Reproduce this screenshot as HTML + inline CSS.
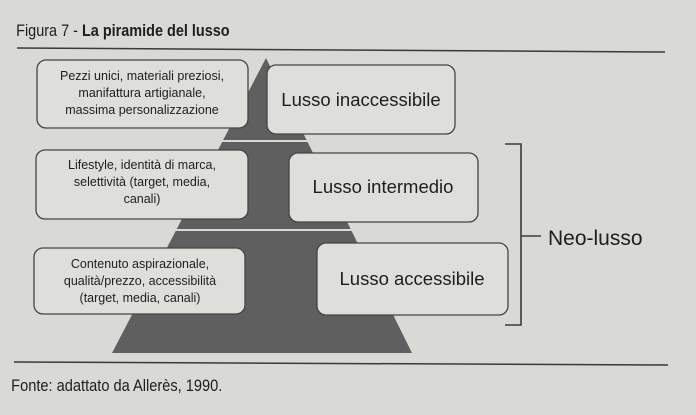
<!DOCTYPE html>
<html><head><meta charset="utf-8"><style>
html,body{margin:0;padding:0;width:696px;height:415px;overflow:hidden;background:#d9d9d6}
svg{display:block}
text{font-family:"Liberation Sans",sans-serif;fill:#1e1e1e}
</style></head><body>
<svg width="696" height="415" viewBox="0 0 696 415">
<rect width="696" height="415" fill="#d9d9d6"/>
<text x="19" y="36" font-size="17" transform="scale(0.85,1)">Figura 7 - <tspan font-weight="bold">La piramide del lusso</tspan></text>
<line x1="17" y1="48" x2="665" y2="52" stroke="#3a3a3a" stroke-width="1.5"/>
<polygon points="266,58 112,353 412,353" fill="#5f5f5f"/>
<line x1="200" y1="141" x2="330" y2="141" stroke="#d9d9d6" stroke-width="2"/>
<line x1="170" y1="230" x2="360" y2="230" stroke="#d9d9d6" stroke-width="2"/>
<g fill="#dededb" stroke="#444" stroke-width="1.3">
<rect x="37" y="60" width="211" height="68" rx="9"/>
<rect x="267" y="65" width="188" height="69" rx="9"/>
<rect x="36" y="150" width="212" height="69" rx="9"/>
<rect x="289" y="153" width="189" height="69" rx="9"/>
<rect x="34" y="248" width="211" height="66" rx="9"/>
<rect x="317" y="243" width="191" height="72" rx="9"/>
</g>
<g font-size="12.5" text-anchor="middle">
<text x="142" y="80">Pezzi unici, materiali preziosi,</text>
<text x="142" y="97">manifattura artigianale,</text>
<text x="142" y="114">massima personalizzazione</text>
<text x="142" y="169">Lifestyle, identità di marca,</text>
<text x="142" y="186">selettività (target, media,</text>
<text x="142" y="203">canali)</text>
<text x="140" y="268">Contenuto aspirazionale,</text>
<text x="140" y="285">qualità/prezzo, accessibilità</text>
<text x="140" y="302">(target, media, canali)</text>
</g>
<g font-size="18.5" text-anchor="middle">
<text x="361" y="106">Lusso inaccessibile</text>
<text x="383" y="193">Lusso intermedio</text>
<text x="412" y="285">Lusso accessibile</text>
</g>
<path d="M505 144 H521 V325 H505 M521 236 H541" fill="none" stroke="#3a3a3a" stroke-width="1.6"/>
<text x="548" y="245" font-size="21">Neo-lusso</text>
<line x1="14" y1="362" x2="668" y2="365" stroke="#3a3a3a" stroke-width="1.5"/>
<text x="13" y="391" font-size="17" transform="scale(0.86,1)">Fonte: adattato da Allerès, 1990.</text>
</svg>
</body></html>
